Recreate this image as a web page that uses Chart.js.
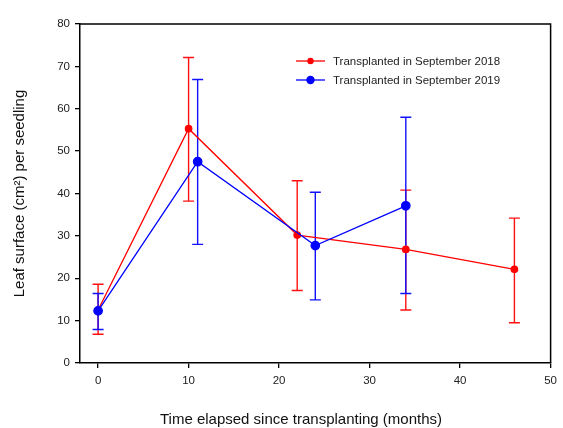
<!DOCTYPE html>
<html>
<head>
<meta charset="utf-8">
<script src="https://cdn.jsdelivr.net/npm/chart.js@4.4.1/dist/chart.umd.min.js"></script>
<style>
  html, body { margin: 0; padding: 0; background: #fff; }
  #wrap { width: 563px; height: 428px; }
</style>
</head>
<body>
<div id="wrap"><canvas id="chart" width="563" height="428"></canvas></div>
<script>
// data
const months2018 = [0, 10, 22, 34, 46];
const leaf2018 = [12.5, 55.3, 30.2, 26.8, 22.1];
const upper2018 = [18.6, 72.1, 43.0, 40.8, 34.2];
const lower2018 = [6.8, 38.2, 17.1, 12.5, 9.5];

const months2019 = [0, 11, 24, 34];
const leaf2019 = [12.3, 47.5, 27.7, 37.1];
const upper2019 = [16.4, 66.9, 40.3, 58.0];
const lower2019 = [7.9, 28.0, 14.9, 16.4];

const seriesLabels = ['Transplanted in September 2018', 'Transplanted in September 2019'];
const xTickValues = [0, 10, 20, 30, 40, 50];
const yTickValues = [0, 10, 20, 30, 40, 50, 60, 70, 80];
const xTitle = 'Time elapsed since transplanting (months)';
const yTitle = 'Leaf surface (cm²) per seedling';

const toPoints = (xs, ys) => xs.map((x, i) => ({ x, y: ys[i] }));
const FONT = '"Liberation Sans", Arial, sans-serif';

// error bars, box frame, legend and x title
const extras = {
  id: 'extras',
  beforeDatasetsDraw(chart) {
    const { ctx, scales: { x, y } } = chart;
    chart.data.datasets.forEach((ds) => {
      ctx.save();
      ctx.strokeStyle = ds.errColor;
      ctx.lineWidth = 1.4;
      ds.data.forEach((p, i) => {
        const px = x.getPixelForValue(p.x);
        const top = y.getPixelForValue(ds.upper[i]);
        const bot = y.getPixelForValue(ds.lower[i]);
        ctx.beginPath();
        ctx.moveTo(px, top);
        ctx.lineTo(px, bot);
        ctx.moveTo(px - 5.5, top);
        ctx.lineTo(px + 5.5, top);
        ctx.moveTo(px - 5.5, bot);
        ctx.lineTo(px + 5.5, bot);
        ctx.stroke();
      });
      ctx.restore();
    });
  },
  afterDraw(chart) {
    const { ctx, chartArea: a } = chart;
    ctx.save();
    ctx.strokeStyle = '#000';
    ctx.lineWidth = 1.5;
    ctx.beginPath();
    ctx.moveTo(a.left, a.top);
    ctx.lineTo(a.right, a.top);
    ctx.lineTo(a.right, a.bottom);
    ctx.stroke();

    // legend
    ctx.font = '11.5px ' + FONT;
    ctx.textBaseline = 'middle';
    chart.data.datasets.forEach((ds, i) => {
      const ly = a.top + 37 + i * 19;
      const lx = a.left + 216;
      ctx.strokeStyle = ds.borderColor;
      ctx.lineWidth = 1.3;
      ctx.beginPath();
      ctx.moveTo(lx, ly);
      ctx.lineTo(lx + 29, ly);
      ctx.stroke();
      ctx.fillStyle = ds.borderColor;
      ctx.beginPath();
      ctx.arc(lx + 14.5, ly, ds.pointRadius, 0, Math.PI * 2);
      ctx.fill();
      ctx.fillStyle = '#222';
      ctx.fillText(ds.label, lx + 37, ly + 1);
    });

    // x title, sits a bit left of the plot centre in the original
    ctx.font = '15px ' + FONT;
    ctx.fillStyle = '#111';
    ctx.textAlign = 'center';
    ctx.textBaseline = 'middle';
    ctx.fillText(xTitle, 301, 420);
    ctx.restore();
  }
};

const tickFont = { family: FONT, size: 11.5 };

new Chart(document.getElementById('chart'), {
  type: 'scatter',
  data: {
    datasets: [
      {
        label: seriesLabels[0],
        data: toPoints(months2018, leaf2018),
        upper: upper2018,
        lower: lower2018,
        showLine: true,
        order: 1,
        borderColor: '#ff0000',
        backgroundColor: '#ff0000',
        errColor: '#ff1010',
        borderWidth: 1.3,
        pointRadius: 3.2,
        pointHoverRadius: 3.2
      },
      {
        label: seriesLabels[1],
        data: toPoints(months2019, leaf2019),
        upper: upper2019,
        lower: lower2019,
        showLine: true,
        order: 0,
        borderColor: '#0000ff',
        backgroundColor: '#0000ff',
        errColor: '#1010ff',
        borderWidth: 1.3,
        pointRadius: 4.2,
        pointHoverRadius: 4.2
      }
    ]
  },
  options: {
    responsive: false,
    animation: false,
    events: [],
    layout: { padding: { top: 24, right: 10, left: 0, bottom: 0 } },
    plugins: {
      legend: { display: false },
      tooltip: { enabled: false }
    },
    scales: {
      x: {
        type: 'linear',
        min: -2,
        max: 50,
        afterBuildTicks: (s) => { s.ticks = xTickValues.map((v) => ({ value: v })); },
        afterFit: (s) => { s.height = 65; },
        grid: { drawOnChartArea: false, drawTicks: true, tickLength: 5, color: '#000', lineWidth: 1.3 },
        border: { display: true, color: '#000', width: 1.5 },
        ticks: { font: tickFont, color: '#222', padding: 6, maxRotation: 0 },
        title: { display: false }
      },
      y: {
        type: 'linear',
        min: 0,
        max: 80,
        afterBuildTicks: (s) => { s.ticks = yTickValues.map((v) => ({ value: v })); },
        afterFit: (s) => { s.width = 80; },
        grid: { drawOnChartArea: false, drawTicks: true, tickLength: 5, color: '#000', lineWidth: 1.3 },
        border: { display: true, color: '#000', width: 1.5 },
        ticks: { font: tickFont, color: '#222', padding: 5 },
        title: { display: true, text: yTitle, font: { family: FONT, size: 15 }, color: '#111', padding: { top: 11, bottom: 0 } }
      }
    }
  },
  plugins: [extras]
});
</script>
</body>
</html>
